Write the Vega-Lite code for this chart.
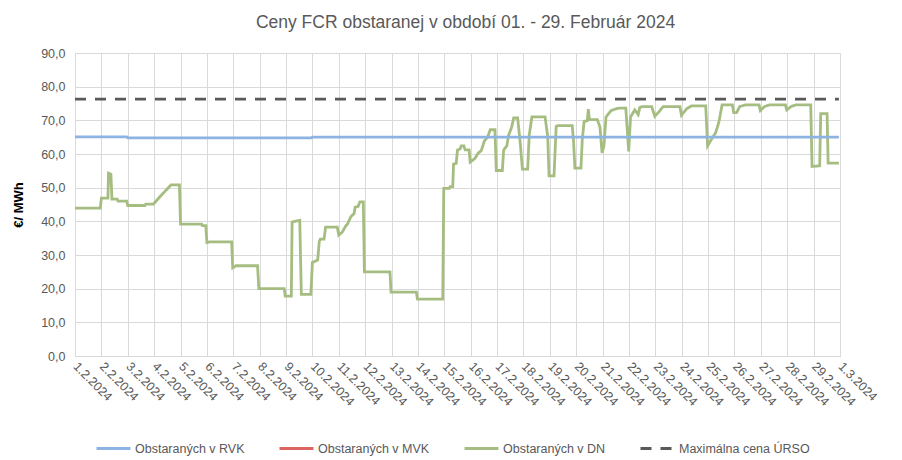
{
  "$schema": "https://vega.github.io/schema/vega-lite/v6.json",
  "autosize": {"type": "none"},
  "width": 765,
  "height": 303,
  "padding": {"left": 75, "top": 53, "right": 62, "bottom": 104},
  "background": "white",
  "title": {
    "text": "Ceny FCR obstaranej v období 01. - 29. Február 2024",
    "fontSize": 17.5,
    "fontWeight": "normal",
    "font": "Liberation Sans",
    "color": "#595959",
    "anchor": "middle",
    "offset": 16,
    "dx": 8
  },
  "datasets": {
    "dn": [
      {"t": "2024-02-01T00:00", "v": 43.9},
      {"t": "2024-02-01T23:00", "v": 43.9},
      {"t": "2024-02-02T00:00", "v": 46.9},
      {"t": "2024-02-02T06:00", "v": 46.9},
      {"t": "2024-02-02T06:30", "v": 54.3},
      {"t": "2024-02-02T08:40", "v": 54.0},
      {"t": "2024-02-02T09:36", "v": 46.6},
      {"t": "2024-02-02T14:24", "v": 46.6},
      {"t": "2024-02-02T15:10", "v": 46.0},
      {"t": "2024-02-02T23:00", "v": 46.0},
      {"t": "2024-02-03T00:00", "v": 44.7},
      {"t": "2024-02-03T15:36", "v": 44.7},
      {"t": "2024-02-03T16:20", "v": 45.1},
      {"t": "2024-02-03T23:15", "v": 45.1},
      {"t": "2024-02-04T05:30", "v": 47.4},
      {"t": "2024-02-04T11:00", "v": 49.3},
      {"t": "2024-02-04T15:20", "v": 50.8},
      {"t": "2024-02-04T23:00", "v": 50.8},
      {"t": "2024-02-05T00:00", "v": 39.2},
      {"t": "2024-02-05T19:12", "v": 39.2},
      {"t": "2024-02-05T19:55", "v": 38.7},
      {"t": "2024-02-05T23:00", "v": 38.7},
      {"t": "2024-02-06T00:00", "v": 33.7},
      {"t": "2024-02-06T02:24", "v": 33.9},
      {"t": "2024-02-06T22:30", "v": 33.9},
      {"t": "2024-02-06T23:30", "v": 26.2},
      {"t": "2024-02-07T02:24", "v": 26.8},
      {"t": "2024-02-07T22:05", "v": 26.8},
      {"t": "2024-02-07T23:17", "v": 20.0},
      {"t": "2024-02-08T22:19", "v": 20.0},
      {"t": "2024-02-08T23:17", "v": 17.8},
      {"t": "2024-02-09T04:48", "v": 17.8},
      {"t": "2024-02-09T05:31", "v": 39.8},
      {"t": "2024-02-09T12:29", "v": 40.3},
      {"t": "2024-02-09T13:55", "v": 18.3},
      {"t": "2024-02-09T22:34", "v": 18.3},
      {"t": "2024-02-10T00:00", "v": 27.8},
      {"t": "2024-02-10T04:48", "v": 28.5},
      {"t": "2024-02-10T06:14", "v": 34.0},
      {"t": "2024-02-10T07:12", "v": 34.7},
      {"t": "2024-02-10T10:34", "v": 34.7},
      {"t": "2024-02-10T12:00", "v": 38.3},
      {"t": "2024-02-10T22:34", "v": 38.3},
      {"t": "2024-02-11T00:00", "v": 35.9},
      {"t": "2024-02-11T03:07", "v": 36.8},
      {"t": "2024-02-11T06:29", "v": 38.7},
      {"t": "2024-02-11T07:55", "v": 39.2},
      {"t": "2024-02-11T11:02", "v": 41.4},
      {"t": "2024-02-11T13:55", "v": 42.3},
      {"t": "2024-02-11T14:53", "v": 44.2},
      {"t": "2024-02-11T17:31", "v": 44.4},
      {"t": "2024-02-11T19:12", "v": 45.8},
      {"t": "2024-02-11T22:19", "v": 45.8},
      {"t": "2024-02-11T23:17", "v": 25.0},
      {"t": "2024-02-12T22:34", "v": 25.0},
      {"t": "2024-02-12T23:31", "v": 19.0},
      {"t": "2024-02-13T22:34", "v": 19.0},
      {"t": "2024-02-13T23:31", "v": 16.9},
      {"t": "2024-02-14T22:34", "v": 16.9},
      {"t": "2024-02-14T23:31", "v": 49.8},
      {"t": "2024-02-15T04:34", "v": 49.8},
      {"t": "2024-02-15T05:17", "v": 50.3},
      {"t": "2024-02-15T07:41", "v": 50.3},
      {"t": "2024-02-15T08:24", "v": 57.0},
      {"t": "2024-02-15T10:48", "v": 57.2},
      {"t": "2024-02-15T12:00", "v": 61.2},
      {"t": "2024-02-15T14:24", "v": 61.5},
      {"t": "2024-02-15T15:22", "v": 62.4},
      {"t": "2024-02-15T17:46", "v": 62.4},
      {"t": "2024-02-15T18:58", "v": 61.2},
      {"t": "2024-02-15T22:34", "v": 61.2},
      {"t": "2024-02-15T23:31", "v": 57.6},
      {"t": "2024-02-16T03:36", "v": 58.6},
      {"t": "2024-02-16T06:58", "v": 60.3},
      {"t": "2024-02-16T09:36", "v": 61.0},
      {"t": "2024-02-16T12:29", "v": 63.9},
      {"t": "2024-02-16T15:22", "v": 65.0},
      {"t": "2024-02-16T17:46", "v": 67.2},
      {"t": "2024-02-16T22:05", "v": 67.2},
      {"t": "2024-02-16T23:17", "v": 55.1},
      {"t": "2024-02-17T04:48", "v": 55.1},
      {"t": "2024-02-17T06:00", "v": 61.2},
      {"t": "2024-02-17T08:53", "v": 62.4},
      {"t": "2024-02-17T10:19", "v": 65.4},
      {"t": "2024-02-17T13:12", "v": 67.9},
      {"t": "2024-02-17T15:07", "v": 70.7},
      {"t": "2024-02-17T18:43", "v": 70.7},
      {"t": "2024-02-17T21:07", "v": 63.2},
      {"t": "2024-02-17T23:02", "v": 55.5},
      {"t": "2024-02-18T03:50", "v": 55.5},
      {"t": "2024-02-18T05:17", "v": 65.7},
      {"t": "2024-02-18T07:41", "v": 71.0},
      {"t": "2024-02-18T19:41", "v": 71.0},
      {"t": "2024-02-18T22:05", "v": 65.2},
      {"t": "2024-02-18T23:17", "v": 53.5},
      {"t": "2024-02-19T03:50", "v": 53.5},
      {"t": "2024-02-19T05:46", "v": 68.2},
      {"t": "2024-02-19T07:12", "v": 68.4},
      {"t": "2024-02-19T20:24", "v": 68.4},
      {"t": "2024-02-19T21:36", "v": 63.7},
      {"t": "2024-02-19T22:48", "v": 55.8},
      {"t": "2024-02-20T04:19", "v": 55.8},
      {"t": "2024-02-20T05:31", "v": 64.2},
      {"t": "2024-02-20T07:12", "v": 69.7},
      {"t": "2024-02-20T10:05", "v": 69.9},
      {"t": "2024-02-20T11:02", "v": 73.3},
      {"t": "2024-02-20T12:00", "v": 70.2},
      {"t": "2024-02-20T19:12", "v": 70.2},
      {"t": "2024-02-20T21:36", "v": 68.0},
      {"t": "2024-02-20T23:31", "v": 60.3},
      {"t": "2024-02-21T01:12", "v": 62.4},
      {"t": "2024-02-21T03:07", "v": 71.0},
      {"t": "2024-02-21T07:41", "v": 72.9},
      {"t": "2024-02-21T12:00", "v": 73.4},
      {"t": "2024-02-21T14:53", "v": 73.6},
      {"t": "2024-02-21T21:07", "v": 73.6},
      {"t": "2024-02-21T23:46", "v": 60.8},
      {"t": "2024-02-22T01:26", "v": 71.0},
      {"t": "2024-02-22T05:17", "v": 73.1},
      {"t": "2024-02-22T08:24", "v": 71.7},
      {"t": "2024-02-22T09:50", "v": 73.8},
      {"t": "2024-02-22T12:00", "v": 74.1},
      {"t": "2024-02-22T20:38", "v": 74.1},
      {"t": "2024-02-22T23:31", "v": 71.2},
      {"t": "2024-02-23T02:24", "v": 72.2},
      {"t": "2024-02-23T07:12", "v": 74.1},
      {"t": "2024-02-23T22:19", "v": 74.1},
      {"t": "2024-02-23T23:46", "v": 71.5},
      {"t": "2024-02-24T04:19", "v": 73.4},
      {"t": "2024-02-24T08:53", "v": 74.3},
      {"t": "2024-02-24T21:50", "v": 74.3},
      {"t": "2024-02-24T23:31", "v": 62.4},
      {"t": "2024-02-25T04:34", "v": 65.2},
      {"t": "2024-02-25T06:43", "v": 66.2},
      {"t": "2024-02-25T09:36", "v": 69.2},
      {"t": "2024-02-25T10:48", "v": 71.2},
      {"t": "2024-02-25T12:43", "v": 74.6},
      {"t": "2024-02-25T22:05", "v": 74.6},
      {"t": "2024-02-25T23:17", "v": 72.3},
      {"t": "2024-02-26T01:55", "v": 72.3},
      {"t": "2024-02-26T04:48", "v": 74.1},
      {"t": "2024-02-26T10:19", "v": 74.6},
      {"t": "2024-02-26T22:19", "v": 74.6},
      {"t": "2024-02-26T23:31", "v": 72.9},
      {"t": "2024-02-27T03:22", "v": 74.1},
      {"t": "2024-02-27T07:55", "v": 74.6},
      {"t": "2024-02-27T22:19", "v": 74.6},
      {"t": "2024-02-27T23:31", "v": 73.1},
      {"t": "2024-02-28T03:36", "v": 74.1},
      {"t": "2024-02-28T07:55", "v": 74.6},
      {"t": "2024-02-28T21:22", "v": 74.6},
      {"t": "2024-02-28T22:34", "v": 56.3},
      {"t": "2024-02-29T05:31", "v": 56.5},
      {"t": "2024-02-29T06:29", "v": 72.0},
      {"t": "2024-02-29T12:14", "v": 72.0},
      {"t": "2024-02-29T13:12", "v": 57.3},
      {"t": "2024-02-29T23:00", "v": 57.3}
    ],
    "other": [
      {"s": "Obstaraných v RVK", "t": "2024-02-01T00:00", "v": 65.1},
      {"s": "Obstaraných v RVK", "t": "2024-02-02T23:00", "v": 65.1},
      {"s": "Obstaraných v RVK", "t": "2024-02-03T00:00", "v": 64.8},
      {"s": "Obstaraných v RVK", "t": "2024-02-09T23:00", "v": 64.8},
      {"s": "Obstaraných v RVK", "t": "2024-02-10T00:00", "v": 65.0},
      {"s": "Obstaraných v RVK", "t": "2024-02-29T23:00", "v": 65.0},
      {"s": "Maximálna cena ÚRSO", "t": "2024-02-01T00:00", "v": 76.3},
      {"s": "Maximálna cena ÚRSO", "t": "2024-02-29T23:00", "v": 76.3}
    ]
  },
  "encoding": {
    "x": {
      "field": "t",
      "type": "temporal",
      "scale": {"domain": [{"year": 2024, "month": 2, "date": 1}, {"year": 2024, "month": 3, "date": 1}], "nice": false},
      "axis": {
        "title": null,
        "format": "%-d.%-m.%Y",
        "tickCount": {"interval": "day", "step": 1},
        "labelAngle": 45,
        "labelAlign": "left",
        "labelBaseline": "middle",
        "labelPadding": 8,
        "labelFontSize": 12.5,
        "labelColor": "#595959",
        "labelFont": "Liberation Sans",
        "labelOverlap": false,
        "labelFlush": false,
        "ticks": false,
        "domainColor": "#d9d9d9",
        "grid": true,
        "gridColor": "#d9d9d9"
      }
    },
    "y": {
      "field": "v",
      "type": "quantitative",
      "scale": {"domain": [0, 90], "nice": false, "zero": true},
      "axis": {
        "title": "€/ MWh",
        "titleFontWeight": "bold",
        "titleFontSize": 13,
        "titleColor": "#000000",
        "titleFont": "Liberation Sans",
        "titleX": -57,
        "titleY": 151.5,
        "titleAlign": "center",
        "titleBaseline": "middle",
        "titleAngle": -90,
        "values": [0, 10, 20, 30, 40, 50, 60, 70, 80, 90],
        "labelExpr": "replace(format(datum.value, '.1f'), '.', ',')",
        "labelFontSize": 12.5,
        "labelColor": "#595959",
        "labelFont": "Liberation Sans",
        "labelPadding": 10,
        "ticks": false,
        "domain": false,
        "grid": true,
        "gridColor": "#d9d9d9"
      }
    },
    "color": {
      "field": "s",
      "type": "nominal",
      "scale": {
        "domain": ["Obstaraných v RVK", "Obstaraných v MVK", "Obstaraných v DN", "Maximálna cena ÚRSO"],
        "range": ["#8db3e2", "#dc6461", "#a5bd80", "#595959"]
      },
      "legend": {
        "title": null,
        "orient": "none",
        "legendX": 20,
        "legendY": 377,
        "direction": "horizontal",
        "columns": 4,
        "columnPadding": 28,
        "symbolType": "stroke",
        "symbolSize": 1156,
        "symbolStrokeWidth": 3,
        "labelOffset": 3,
        "labelFontSize": 12.5,
        "labelColor": "#595959",
        "labelFont": "Liberation Sans",
        "labelLimit": 300
      }
    },
    "strokeDash": {
      "field": "s",
      "type": "nominal",
      "scale": {
        "domain": ["Obstaraných v RVK", "Obstaraných v MVK", "Obstaraných v DN", "Maximálna cena ÚRSO"],
        "range": [[1, 0], [1, 0], [1, 0], [11, 9]]
      },
      "legend": {
        "title": null,
        "orient": "none",
        "legendX": 20,
        "legendY": 377,
        "direction": "horizontal",
        "columns": 4,
        "columnPadding": 28,
        "symbolType": "stroke",
        "symbolSize": 1156,
        "symbolStrokeWidth": 3,
        "labelOffset": 3,
        "labelFontSize": 12.5,
        "labelColor": "#595959",
        "labelFont": "Liberation Sans",
        "labelLimit": 300
      }
    }
  },
  "layer": [
    {
      "data": {"name": "dn"},
      "transform": [{"calculate": "'Obstaraných v DN'", "as": "s"}],
      "mark": {"type": "line", "strokeWidth": 2.8, "interpolate": "linear", "strokeCap": "butt"}
    },
    {
      "data": {"name": "other"},
      "mark": {"type": "line", "strokeWidth": 2.8, "interpolate": "linear", "strokeCap": "butt"}
    }
  ],
  "config": {
    "view": {"stroke": "#d9d9d9"},
    "font": "Liberation Sans"
  }
}
